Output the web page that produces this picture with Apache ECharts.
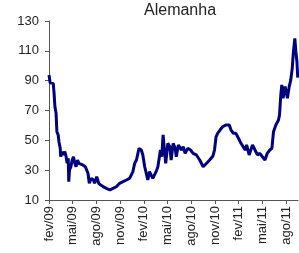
<!DOCTYPE html>
<html>
<head>
<meta charset="utf-8">
<script src="https://cdn.jsdelivr.net/npm/echarts@6/dist/echarts.min.js"></script>
<style>
  html, body { margin: 0; padding: 0; background: #fff; }
  #chart { width: 299px; height: 253px; }
</style>
</head>
<body>
<div id="chart"></div>
<script>
// datas
const dates = [
  '2009-02-01', '2009-02-05', '2009-02-16', '2009-02-19', '2009-02-22', '2009-02-26',
  '2009-03-01', '2009-03-06', '2009-03-09', '2009-03-14', '2009-03-16', '2009-03-21', '2009-03-26',
  '2009-04-01', '2009-04-06', '2009-04-10', '2009-04-14', '2009-04-16', '2009-04-19', '2009-04-24', '2009-04-29',
  '2009-05-04', '2009-05-09', '2009-05-14', '2009-05-20', '2009-05-25',
  '2009-06-01', '2009-06-09', '2009-06-14', '2009-06-19', '2009-06-24', '2009-06-29',
  '2009-07-04', '2009-07-12', '2009-07-20', '2009-07-25',
  '2009-08-02', '2009-08-10', '2009-08-18', '2009-08-27',
  '2009-09-09', '2009-09-22', '2009-10-04', '2009-10-17', '2009-10-30',
  '2009-11-12', '2009-11-25', '2009-12-07', '2009-12-20', '2009-12-27',
  '2010-01-03', '2010-01-13', '2010-01-22', '2010-01-28',
  '2010-02-04', '2010-02-15', '2010-02-21', '2010-03-05', '2010-03-18', '2010-03-25',
  '2010-04-04', '2010-04-09', '2010-04-14', '2010-04-19', '2010-04-24',
  '2010-05-02', '2010-05-10', '2010-05-15', '2010-05-23', '2010-05-31',
  '2010-06-04', '2010-06-12', '2010-06-23', '2010-06-30',
  '2010-07-08', '2010-07-18', '2010-07-29', '2010-08-08', '2010-08-21',
  '2010-09-03', '2010-09-16', '2010-09-29', '2010-10-11', '2010-10-24', '2010-10-30',
  '2010-11-05', '2010-11-11', '2010-11-20', '2010-11-30', '2010-12-13', '2010-12-26',
  '2011-01-02', '2011-01-11', '2011-01-21', '2011-01-31',
  '2011-02-09', '2011-02-15', '2011-02-24', '2011-03-01', '2011-03-11', '2011-03-24',
  '2011-04-03', '2011-04-12', '2011-04-21', '2011-05-01', '2011-05-11', '2011-05-20', '2011-05-30',
  '2011-06-07', '2011-06-13', '2011-06-22', '2011-07-02', '2011-07-06', '2011-07-11', '2011-07-15',
  '2011-07-20', '2011-07-28', '2011-08-06', '2011-08-13', '2011-08-19', '2011-08-25', '2011-08-29',
  '2011-09-04', '2011-09-08', '2011-09-12', '2011-09-15'
];
const values = [
  93.8, 88.6, 88.2, 81.5, 72.5, 68.1,
  55.8, 53.6, 49.1, 44.6, 39, 42.4, 40.2,
  42.4, 39, 34.6, 38, 22.3, 30.1, 32.3, 36.8,
  39, 34.6, 32.3, 36.8, 34.6,
  35.7, 33.5, 34.6, 32.3, 31.2, 27.9,
  21.2, 24.5, 23.4, 21.2,
  25.6, 21.2, 20, 19,
  17.8, 16.7, 17.8, 18.9, 21.2,
  22.3, 23.4, 24.5, 29, 34.6,
  36.8, 44.6, 43.5, 40.2,
  32.3, 23.4, 29, 24.5, 29, 32.3,
  43.5, 39, 53.6, 43.5, 34.6,
  48, 45.7, 36.8, 48, 44.6,
  39, 46.9, 43.5, 45.7,
  41.3, 44.6, 43.5, 41.3, 40.2,
  36.8, 32.3, 34.6, 36.8, 39.5, 43.5,
  52.4, 54.7, 56.9, 59.1, 60.3, 60.3,
  56.9, 54.7, 54.7, 51.4,
  48, 49.1, 43.5, 46.9, 40.2, 46.9,
  43.5, 40.2, 41.3, 39, 36.8, 41.3, 43.5,
  44.6, 55.8, 60.3, 63.6, 67, 80.4, 87.1,
  78.2, 86, 78.2, 86, 90.4, 98.3, 108.3,
  118.4, 109.4, 102.7, 92
];
const mesesPt = ['jan', 'fev', 'mar', 'abr', 'mai', 'jun', 'jul', 'ago', 'set', 'out', 'nov', 'dez'];

// converte data em índice de mês (0 = fev/09)
function mesIdx(s) {
  const p = s.split('-').map(Number);
  const dias = new Date(p[0], p[1], 0).getDate();
  return (p[0] - 2009) * 12 + (p[1] - 2) + (p[2] - 1) / dias;
}

const chart = echarts.init(document.getElementById('chart'));
chart.setOption({
  animation: false,
  backgroundColor: '#fff',
  title: {
    text: 'Alemanha',
    left: 144,
    top: 3,
    padding: 0,
    textStyle: { fontFamily: 'Liberation Sans', fontSize: 16, fontWeight: 'normal', color: '#222' }
  },
  grid: { left: 49, right: 1, top: 21, bottom: 53 },
  xAxis: {
    type: 'value',
    min: 0,
    max: 31.5,
    interval: 3,
    axisLine: { lineStyle: { color: '#555', width: 1 } },
    axisTick: { show: true, length: 4, lineStyle: { color: '#555' } },
    splitLine: { show: false },
    axisLabel: {
      rotate: 90,
      margin: 6,
      fontFamily: 'Liberation Sans',
      fontSize: 13,
      color: '#222',
      showMaxLabel: false,
      formatter: function (v) {
        const total = v + 1;
        const ano = 2009 + Math.floor(total / 12);
        return mesesPt[total % 12] + '/' + String(ano).slice(2);
      }
    }
  },
  yAxis: {
    type: 'value',
    min: 10,
    max: 130,
    interval: 20,
    axisLine: { show: true, lineStyle: { color: '#555', width: 1 } },
    axisTick: { show: true, length: 4, lineStyle: { color: '#555' } },
    splitLine: { show: false },
    axisLabel: { margin: 10, fontFamily: 'Liberation Sans', fontSize: 13, color: '#222' }
  },
  series: [{
    type: 'line',
    showSymbol: false,
    data: dates.map((d, i) => [mesIdx(d), values[i]]),
    lineStyle: { color: '#000080', width: 3 },
    itemStyle: { color: '#000080' }
  }]
});
</script>
</body>
</html>
